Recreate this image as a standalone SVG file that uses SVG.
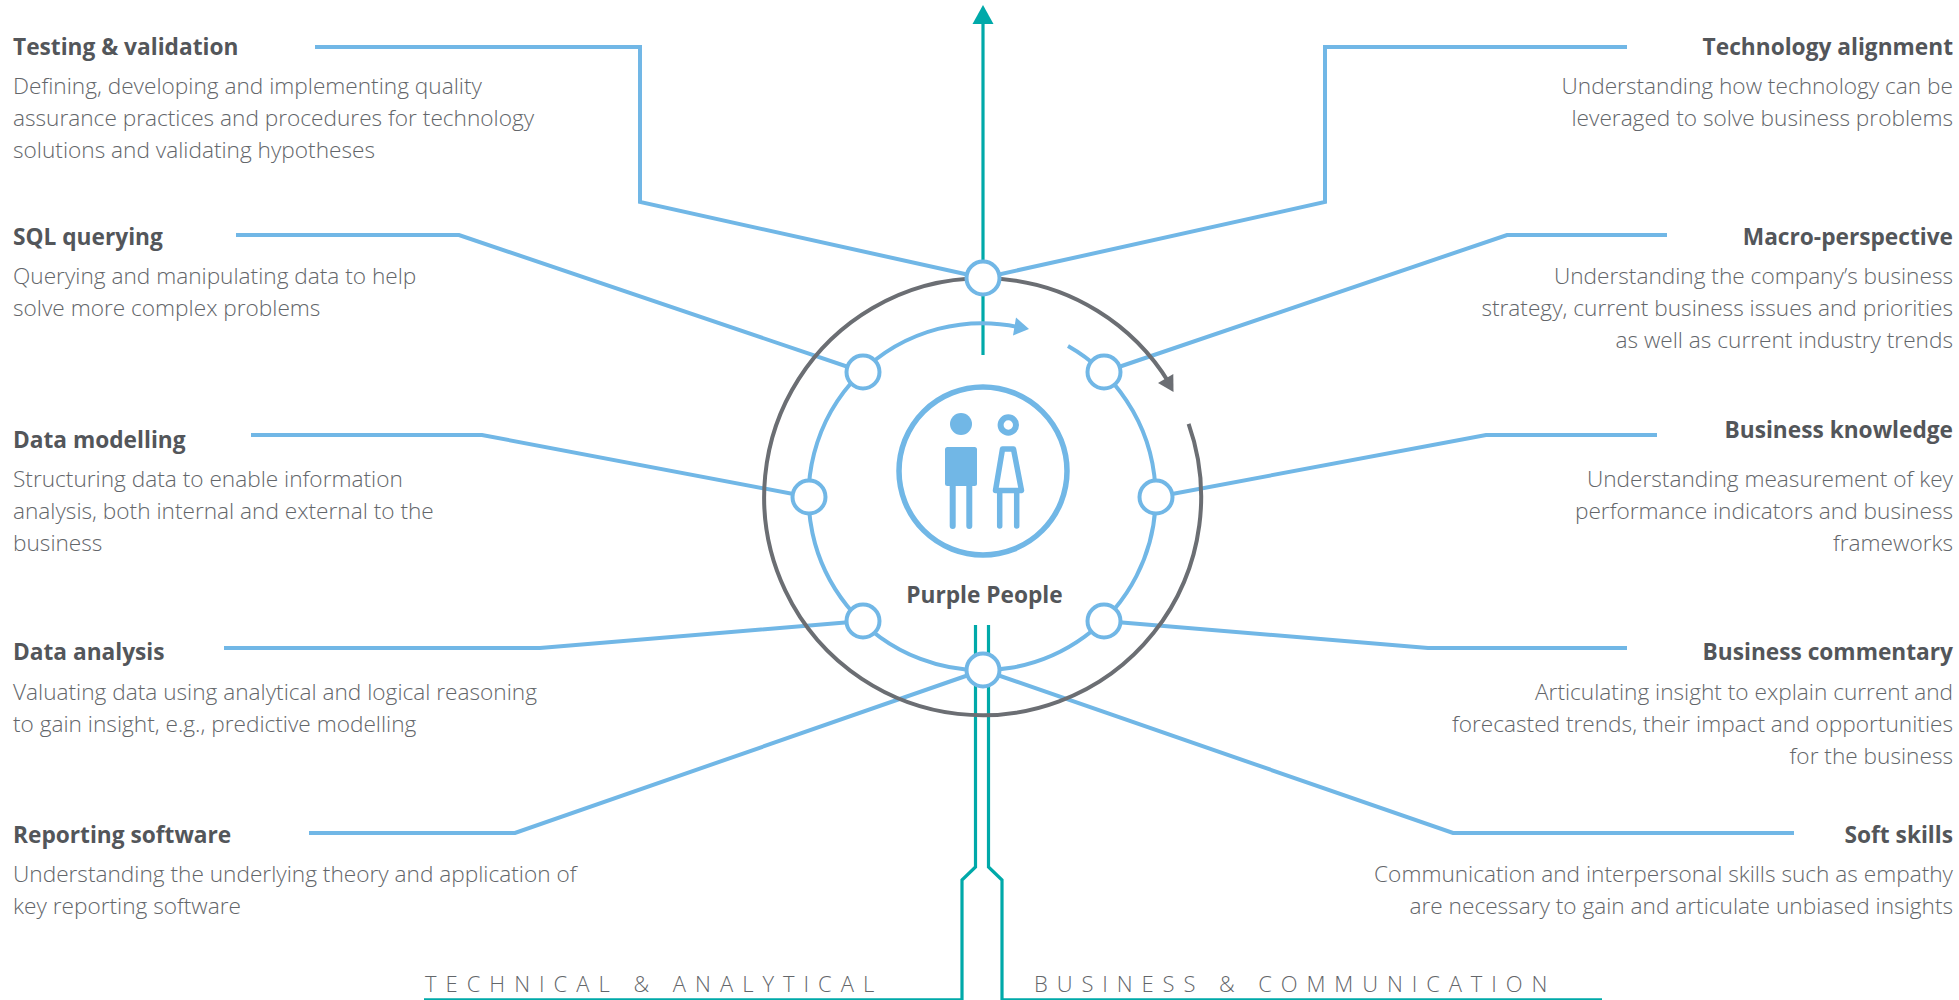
<svg xmlns="http://www.w3.org/2000/svg" width="1959" height="1000" viewBox="0 0 1959 1000">
<style>
text{font-family:"Open Sans","Noto Sans","Liberation Sans",sans-serif}
.t{font-size:22.7px;font-weight:700;fill:#53565a}
.d{font-size:22.65px;font-weight:300;fill:#63666a}
.r{text-anchor:end}
.c{fill:none;stroke:#71b7e6;stroke-width:4}
.g{fill:none;stroke:#6b6e73;stroke-width:4}
.v{fill:none;stroke:#00a9a9;stroke-width:3.2}
.n{fill:#fff;stroke:#71b7e6;stroke-width:4}
.l{font-size:22px;font-weight:300;fill:#63666a}
.i{fill:none;stroke:#71b7e6;stroke-linecap:round}
</style>
<rect width="1959" height="1000" fill="#fff"/>
<g id="connectors">
<path class="v" d="M983 355V22"/>
<polygon points="983,5 993.500,24 972.500,24" fill="#00a9a9"/>
<path class="v" d="M975.500 625V867L962 880V999.800H424"/>
<path class="v" d="M988.500 625V867L1002 880V999.800H1602"/>
<path class="c" d="M315 47H640V202L983 278"/>
<path class="c" d="M1627 47H1325V202L983 278"/>
<path class="c" d="M236 235H459L863 372"/>
<path class="c" d="M1667 235H1507L1104 372"/>
<path class="c" d="M251 435H482L809 497"/>
<path class="c" d="M1657 435H1486L1156 497"/>
<path class="c" d="M224 648H540L863 621"/>
<path class="c" d="M1627 648H1428L1104 621"/>
<path class="c" d="M309 833H515L983 670"/>
<path class="c" d="M1794 833H1453L983 670"/>
<path class="c" d="M1068 346A173.500 173.500 0 1 1 1018 327"/>
<polygon points="1029,329 1016,317.500 1013,335.500" fill="#71b7e6"/>
<path class="g" d="M1188.600 423.800A218.500 218.500 0 1 1 1169.300 383.200"/>
<polygon points="1173.500,392 1173.300,374 1158,383" fill="#6b6e73"/>
</g>
<g id="ring-nodes">
<circle id="node-top" class="n" cx="983" cy="278" r="16.500"/>
<circle id="node-top-left" class="n" cx="863" cy="372" r="16.500"/>
<circle id="node-top-right" class="n" cx="1104" cy="372" r="16.500"/>
<circle id="node-left" class="n" cx="809" cy="497" r="16.500"/>
<circle id="node-right" class="n" cx="1156" cy="497" r="16.500"/>
<circle id="node-bottom-left" class="n" cx="863" cy="621" r="16.500"/>
<circle id="node-bottom-right" class="n" cx="1104" cy="621" r="16.500"/>
<circle id="node-bottom" class="n" cx="983" cy="670" r="16.500"/>
</g>
<g id="purple-people">
<circle class="i" cx="983" cy="471" r="84" stroke-width="5.500" fill="#fff"/>
<circle cx="961" cy="424" r="11" fill="#71b7e6"/>
<rect x="945" y="447" width="32" height="39" rx="2.500" fill="#71b7e6"/>
<path class="i" stroke-width="6" d="M952.700 486V526M969.300 486V526"/>
<circle cx="1008.300" cy="425" r="7.700" fill="none" stroke="#71b7e6" stroke-width="6"/>
<path d="M1002.500 449H1013.500L1021.500 490.500H995.500Z" fill="none" stroke="#71b7e6" stroke-width="5.500" stroke-linejoin="round"/>
<path class="i" stroke-width="5.500" d="M999.700 491V526M1016.700 491V526"/>
<text class="t" x="984.500" y="603" text-anchor="middle">Purple People</text>
</g>
<g id="testing"><text class="t" x="13" y="55">Testing &amp; validation</text><text class="d" x="13" y="94">Defining, developing and implementing quality</text><text class="d" x="13" y="126">assurance practices and procedures for technology</text><text class="d" x="13" y="158">solutions and validating hypotheses</text></g>
<g id="sql"><text class="t" x="13" y="245">SQL querying</text><text class="d" x="13" y="284">Querying and manipulating data to help</text><text class="d" x="13" y="316">solve more complex problems</text></g>
<g id="modelling"><text class="t" x="13" y="448">Data modelling</text><text class="d" x="13" y="487">Structuring data to enable information</text><text class="d" x="13" y="519">analysis, both internal and external to the</text><text class="d" x="13" y="551">business</text></g>
<g id="analysis"><text class="t" x="13" y="660">Data analysis</text><text class="d" x="13" y="700">Valuating data using analytical and logical reasoning</text><text class="d" x="13" y="732">to gain insight, e.g., predictive modelling</text></g>
<g id="reporting"><text class="t" x="13" y="843">Reporting software</text><text class="d" x="13" y="882">Understanding the underlying theory and application of</text><text class="d" x="13" y="914">key reporting software</text></g>
<g id="technology"><text class="t r" x="1953" y="55">Technology alignment</text><text class="d r" x="1953" y="94">Understanding how technology can be</text><text class="d r" x="1953" y="126">leveraged to solve business problems</text></g>
<g id="macro"><text class="t r" x="1953" y="245">Macro-perspective</text><text class="d r" x="1953" y="284">Understanding the company’s business</text><text class="d r" x="1953" y="316">strategy, current business issues and priorities</text><text class="d r" x="1953" y="348">as well as current industry trends</text></g>
<g id="knowledge"><text class="t r" x="1953" y="438">Business knowledge</text><text class="d r" x="1953" y="487">Understanding measurement of key</text><text class="d r" x="1953" y="519">performance indicators and business</text><text class="d r" x="1953" y="551">frameworks</text></g>
<g id="commentary"><text class="t r" x="1953" y="660">Business commentary</text><text class="d r" x="1953" y="700">Articulating insight to explain current and</text><text class="d r" x="1953" y="732">forecasted trends, their impact and opportunities</text><text class="d r" x="1953" y="764">for the business</text></g>
<g id="soft"><text class="t r" x="1953" y="843">Soft skills</text><text class="d r" x="1953" y="882">Communication and interpersonal skills such as empathy</text><text class="d r" x="1953" y="914">are necessary to gain and articulate unbiased insights</text></g>
<g id="axis-labels"><text class="l" x="425" y="992" letter-spacing="9">TECHNICAL &amp; ANALYTICAL</text><text class="l" x="1034" y="992" letter-spacing="8.900">BUSINESS &amp; COMMUNICATION</text></g>
</svg>
